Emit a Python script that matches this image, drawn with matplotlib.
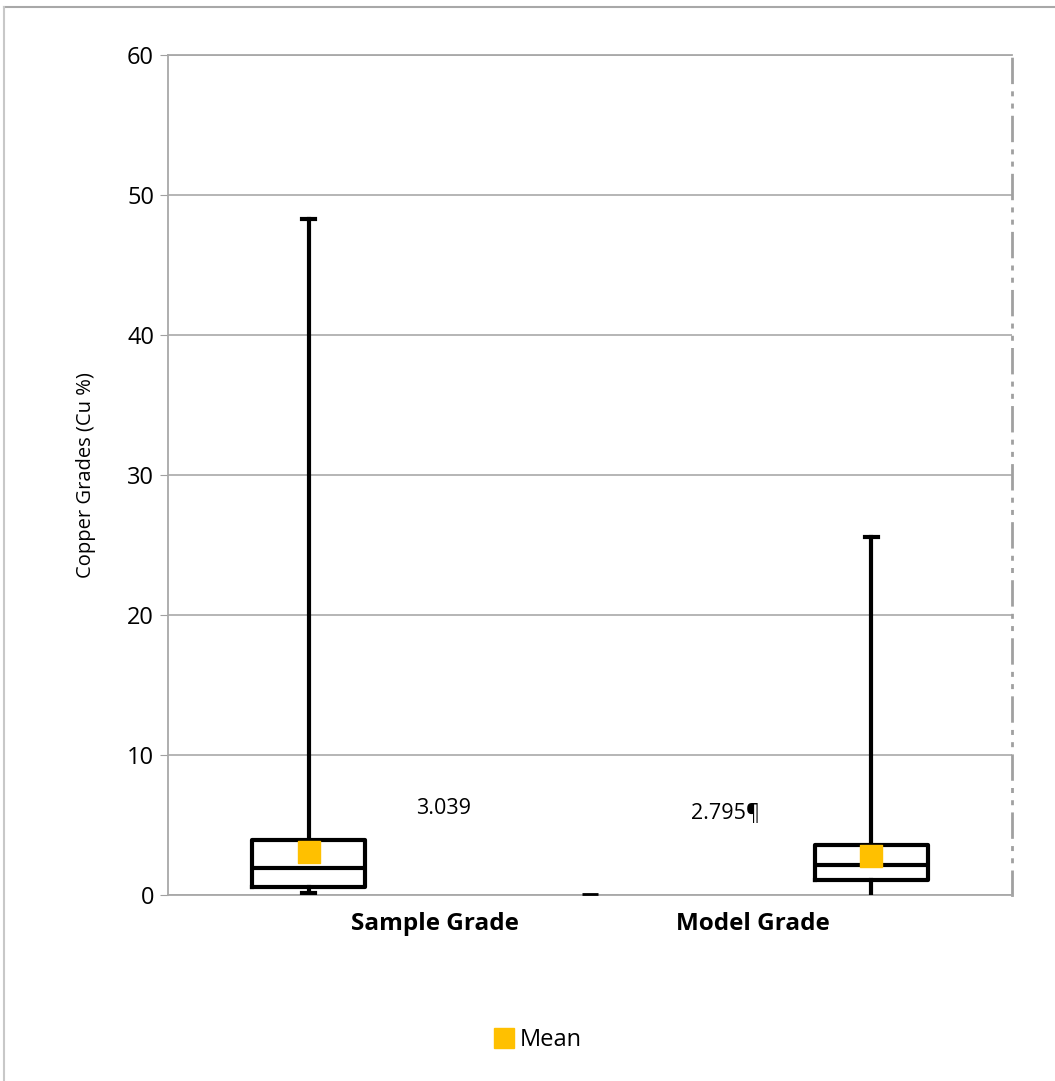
import matplotlib
matplotlib.use("Agg")
import matplotlib.pyplot as plt
from matplotlib.lines import Line2D

categories = ["Sample Grade", "Model Grade"]
whisker_low = [0.14, 0.0]
q1 = [0.57, 1.07]
medians = [1.93, 2.14]
q3 = [3.93, 3.57]
whisker_high = [48.3, 25.6]
means = [3.039, 2.795]
mean_labels = ["3.039", "2.795¶"]
yticks = [0, 10, 20, 30, 40, 50, 60]

plt.rcParams['font.family'] = ['Open Sans', 'DejaVu Sans']

fig = plt.figure(figsize=(10.55, 10.81), dpi=100)
ax = fig.add_axes([168/1055, 1 - 895/1081, (1012-168)/1055, (895-55)/1081])

positions = [0.5, 2.5]
stats = []
for i in range(len(categories)):
    stats.append(dict(whislo=whisker_low[i], q1=q1[i], med=medians[i], q3=q3[i],
                      whishi=whisker_high[i], fliers=[], label=categories[i]))
bp = ax.bxp(stats, positions=positions, widths=0.40, capwidths=0.045, showfliers=False,
            boxprops=dict(color='black', linewidth=3),
            whiskerprops=dict(color='black', linewidth=3),
            capprops=dict(color='black', linewidth=3),
            medianprops=dict(color='black', linewidth=3), zorder=3)
# the Model Grade lower cap sits on the axis and is not visible in the original
bp['caps'][2].set_visible(False)
ax.scatter(positions, means, marker='s', s=230, color='#FFC000', zorder=4, label='Mean')
# small dash between categories
ax.plot([1.5], [0.1], marker='_', color='black', markersize=11, mew=2, zorder=3)

ax.set_xlim(0, 3)
ax.set_ylim(0, 60)
ax.set_yticks(yticks)
ax.set_xticks([])
ax.tick_params(axis='y', labelsize=17, length=6, color='#A0A0A0', pad=4)
ax.yaxis.grid(True, color='#B0B0B0', linewidth=1.3)
ax.set_axisbelow(True)
for s in ['left', 'bottom', 'top']:
    ax.spines[s].set_color('#A8A8A8')
    ax.spines[s].set_linewidth(1.3)
ax.spines['right'].set_color('#A0A0A0')
ax.spines['right'].set_linewidth(2.0)
ax.spines['right'].set_linestyle((0, (8.5, 3.6, 0.8, 3.6, 0.8, 3.6)))

ax.set_ylabel("Copper Grades (Cu %)", fontsize=14.5, labelpad=22)

for x, lab in zip([0.95, 2.08], categories):
    ax.text(x, -1.2, lab, ha='center', va='top', fontsize=17.5, fontweight='bold',
            transform=ax.transData)
for x, y, lab in zip([0.98, 1.98], [5.4, 5.1], mean_labels):
    ax.text(x, y, lab, ha='center', va='bottom', fontsize=15.5)

# legend
fig.legend(handles=[Line2D([], [], marker='s', color='#FFC000', linestyle='None', markersize=14)],
           labels=['Mean'], loc='center', bbox_to_anchor=(537/1055, 1 - 1040/1081),
           frameon=False, fontsize=17, handletextpad=0.2, handlelength=1.0)

# outer border
fig.add_artist(Line2D([4/1055, 1], [1 - 7/1081, 1 - 7/1081], color='#A8A8A8', linewidth=1.5))
fig.add_artist(Line2D([4/1055, 4/1055], [0, 1 - 7/1081], color='#C8C8C8', linewidth=1.5))

fig.savefig("out.png", dpi=100)
